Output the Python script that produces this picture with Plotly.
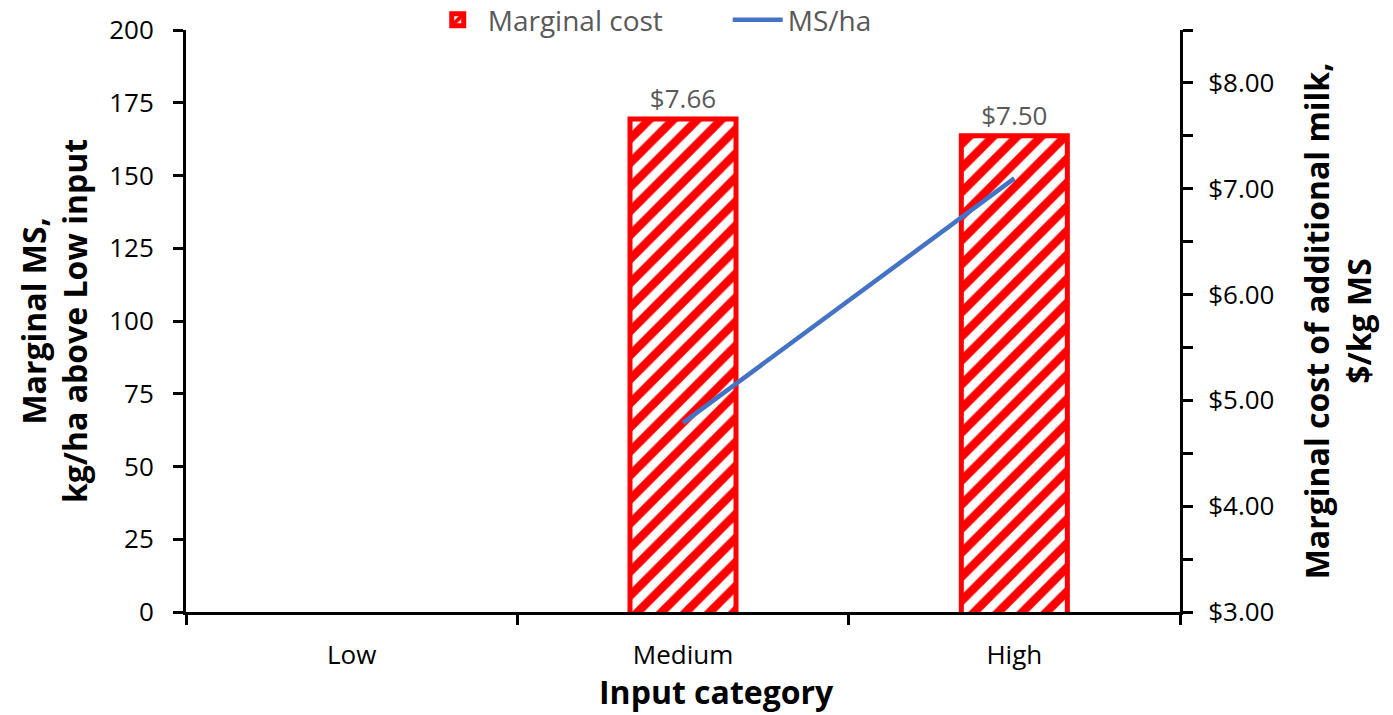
import plotly.graph_objects as go

# Input categories and series values
categories = ["Low", "Medium", "High"]
marginal_cost = [None, 7.66, 7.50]      # $/kg MS (right axis)
ms_per_ha = [None, 65, 149]             # kg MS/ha above Low input (left axis)

cost_ticks = [3.0, 3.5, 4.0, 4.5, 5.0, 5.5, 6.0, 6.5, 7.0, 7.5, 8.0, 8.5]
cost_labels = [f"${v:.2f}" if v == int(v) else "" for v in cost_ticks]
ms_ticks = [0, 25, 50, 75, 100, 125, 150, 175, 200]

FONT = "Open Sans"
RED = "#FF0000"
BLUE = "#4472C4"
GREY = "#595959"
TICK_SIZE = 26
TITLE_SIZE = 32

fig = go.Figure()

fig.add_trace(go.Bar(
    x=categories, y=marginal_cost, name="Marginal cost",
    yaxis="y", width=0.32,
    marker=dict(
        color="white",
        line=dict(color=RED, width=5),
        pattern=dict(shape="/", fgcolor=RED, bgcolor="white", fgopacity=1,
                     size=17, solidity=0.5),
    ),
    texttemplate="$%{y:.2f}", textposition="outside",
    textfont=dict(family=FONT, size=TICK_SIZE, color=GREY),
    cliponaxis=False,
))

fig.add_trace(go.Scatter(
    x=categories, y=ms_per_ha, name="MS/ha", yaxis="y2",
    mode="lines", line=dict(color=BLUE, width=4.5),
))

fig.update_layout(
    width=1393, height=715,
    margin=dict(l=186, r=213, t=30, b=103, autoexpand=False),
    paper_bgcolor="white", plot_bgcolor="white",
    font=dict(family=FONT, size=TICK_SIZE, color="black"),
    showlegend=True,
    legend=dict(
        orientation="h", x=0.545, xanchor="center", y=1.017, yanchor="middle",
        font=dict(family=FONT, size=28, color=GREY),
        traceorder="normal", itemwidth=50,
        entrywidth=235, entrywidthmode="pixels",
    ),
    xaxis=dict(
        type="category", showgrid=False,
        showline=True, linecolor="black", linewidth=3,
        ticks="outside", tickson="boundaries", ticklen=10, tickwidth=3, tickcolor="black",
        tickfont=dict(family=FONT, size=TICK_SIZE, color="black"),
        ticklabelstandoff=18,
    ),
    yaxis=dict(
        side="right", range=[3, 8.5], showgrid=False, zeroline=False,
        showline=True, linecolor="black", linewidth=3,
        tickvals=cost_ticks, ticktext=cost_labels,
        ticks="outside", ticklen=10, tickwidth=3, tickcolor="black",
        tickfont=dict(family=FONT, size=TICK_SIZE, color="black"),
        ticklabelstandoff=10,
        title=dict(text="<b>Marginal cost of additional milk,<br>$/kg MS</b>",
                   font=dict(family=FONT, size=TITLE_SIZE), standoff=34),
    ),
    yaxis2=dict(
        overlaying="y", side="left", range=[0, 200], showgrid=False, zeroline=False,
        showline=True, linecolor="black", linewidth=3,
        tickvals=ms_ticks,
        ticks="outside", ticklen=10, tickwidth=3, tickcolor="black",
        tickfont=dict(family=FONT, size=TICK_SIZE, color="black"),
        ticklabelstandoff=14,
        title=dict(text="<b>Marginal MS,<br>kg/ha above Low input</b>",
                   font=dict(family=FONT, size=TITLE_SIZE), standoff=12),
    ),
    annotations=[dict(
        text="<b>Input category</b>", xref="paper", yref="paper",
        x=0.534, y=-0.137, xanchor="center", yanchor="middle", showarrow=False,
        font=dict(family=FONT, size=TITLE_SIZE, color="black"),
    )],
)

fig.write_html("out.html")
